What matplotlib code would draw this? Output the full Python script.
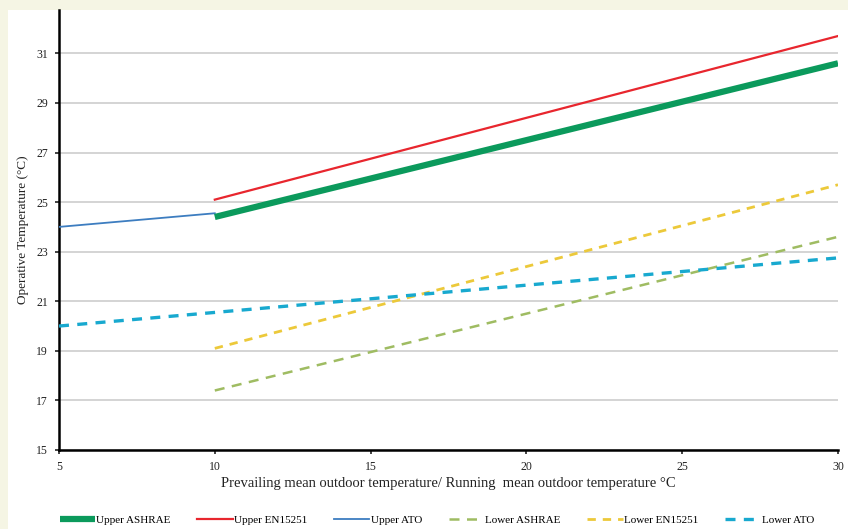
import matplotlib
matplotlib.use("Agg")
import matplotlib.pyplot as plt
from matplotlib.patches import Rectangle

# prevailing / running mean outdoor temperature (degC)
x_ashrae = [10, 30]
x_en = [10, 30]
x_ato_upper = [5, 10]
x_ato_lower = [5, 30]

upper_ashrae = [24.4, 30.6]
upper_en = [25.1, 31.7]
upper_ato = [24.0, 24.55]
lower_ashrae = [17.4, 23.6]
lower_en = [19.1, 25.7]
lower_ato = [20.0, 22.75]

yticks = [15, 17, 19, 21, 23, 25, 27, 29, 31]
xticks = [5, 10, 15, 20, 25, 30]

plt.rcParams["font.family"] = ["Liberation Serif", "DejaVu Serif"]

fig = plt.figure(figsize=(8.48, 5.29), dpi=100, facecolor="#f5f5e4")
# white panel inside the cream border
fig.patches.append(Rectangle((8 / 848, 0), 1, 1 - 10 / 529, transform=fig.transFigure,
                             facecolor="white", edgecolor="none", zorder=-10))
ax = fig.add_axes([59 / 848, 1 - 450 / 529, (838 - 59) / 848, (450 - 10) / 529])
ax.set_facecolor("white")

ax.plot(x_ashrae, upper_ashrae, color="#0b9a5c", lw=4.5, label="Upper ASHRAE", solid_capstyle="butt", zorder=4)
ax.plot(x_en, upper_en, color="#e8262e", lw=1.6, label="Upper EN15251", zorder=3)
ax.plot(x_ato_upper, upper_ato, color="#3d7dc0", lw=1.3, label="Upper ATO", zorder=3)
ax.plot(x_ashrae, lower_ashrae, color="#9fbc62", lw=1.8, ls=(0, (4, 3)), label="Lower ASHRAE", zorder=3)
ax.plot(x_en, lower_en, color="#ecc93a", lw=2.0, ls=(0, (3, 2.5)), label="Lower EN15251", zorder=3)
ax.plot(x_ato_lower, lower_ato, color="#18a9cf", lw=2.4, ls=(0, (3, 2.5)), label="Lower ATO", zorder=3)

ax.set_xlim(5, 30)
ax.set_ylim(15, 32.75)
ax.set_xticks(xticks)
ax.set_yticks(yticks)
ax.grid(axis="y", color="#d4d4d4", lw=1.4)
ax.set_axisbelow(True)
for s in ["top", "right"]:
    ax.spines[s].set_visible(False)
for s in ["left", "bottom"]:
    ax.spines[s].set_linewidth(1.8)
ax.tick_params(labelsize=8.5, length=3, width=1.2, pad=5, colors="#222222")

ax.set_xlabel("Prevailing mean outdoor temperature/ Running  mean outdoor temperature \u00b0C",
              fontsize=10.5, labelpad=3, color="#222222")
ax.set_ylabel("Operative Temperature (\u00b0C)", fontsize=9.5, labelpad=5, color="#222222")

ax.legend(loc="upper center", bbox_to_anchor=(0.485, -0.125), ncol=6, frameon=False,
          fontsize=8, handlelength=3.2, handletextpad=0.1, columnspacing=2.4)

fig.savefig("out.png", dpi=100, facecolor=fig.get_facecolor())
